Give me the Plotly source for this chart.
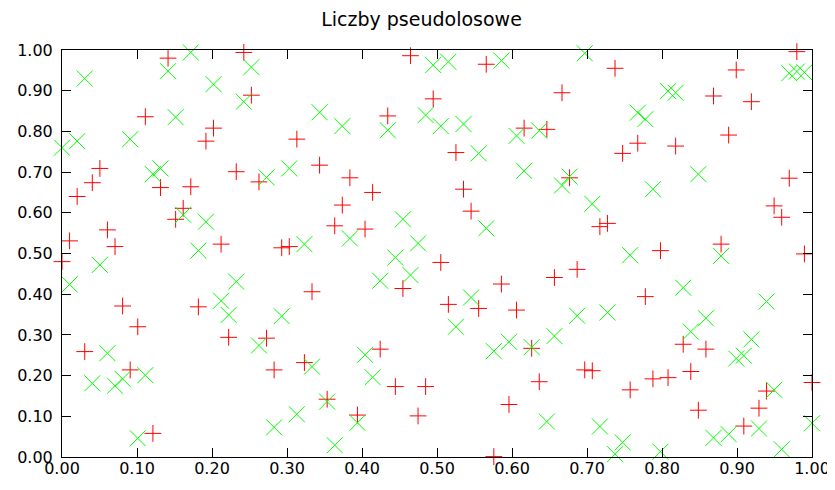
import numpy as np
import plotly.graph_objects as go

title = "Liczby pseudolosowe"
n_samples = 100
x_samples = np.linspace(0.0, 1.0, n_samples)  # gnuplot samples over [0:1]

red_y = [0.480, 0.531, 0.640, 0.259, 0.674, 0.709, 0.558, 0.517, 0.371, 0.214,
         0.320, 0.836, 0.058, 0.662, 0.980, 0.584, 0.611, 0.664, 0.369, 0.776,
         0.808, 0.523, 0.294, 0.701, 0.994, 0.889, 0.676, 0.292, 0.214, 0.514,
         0.517, 0.781, 0.232, 0.406, 0.717, 0.142, 0.568, 0.619, 0.686, 0.103,
         0.560, 0.650, 0.265, 0.838, 0.173, 0.414, 0.986, 0.101, 0.173, 0.880,
         0.478, 0.375, 0.748, 0.658, 0.604, 0.365, 0.965, 0.001, 0.425, 0.129,
         0.361, 0.808, 0.267, 0.185, 0.805, 0.441, 0.895, 0.686, 0.461, 0.214,
         0.212, 0.566, 0.574, 0.955, 0.746, 0.165, 0.771, 0.394, 0.192, 0.507,
         0.195, 0.764, 0.277, 0.210, 0.115, 0.265, 0.887, 0.523, 0.791, 0.951,
         0.076, 0.873, 0.120, 0.162, 0.617, 0.589, 0.685, 0.996, 0.499, 0.183]

green_y = [0.760, 0.424, 0.776, 0.930, 0.181, 0.472, 0.255, 0.175, 0.192, 0.781,
           0.046, 0.201, 0.695, 0.709, 0.948, 0.835, 0.595, 0.994, 0.507, 0.578,
           0.916, 0.384, 0.349, 0.431, 0.873, 0.958, 0.274, 0.687, 0.073, 0.346,
           0.709, 0.105, 0.523, 0.222, 0.847, 0.136, 0.029, 0.813, 0.537, 0.084,
           0.251, 0.196, 0.433, 0.803, 0.490, 0.584, 0.447, 0.525, 0.840, 0.963,
           0.813, 0.971, 0.320, 0.818, 0.392, 0.746, 0.562, 0.260, 0.974, 0.283,
           0.789, 0.703, 0.270, 0.802, 0.087, 0.297, 0.667, 0.689, 0.347, 0.992,
           0.622, 0.075, 0.355, 0.007, 0.036, 0.496, 0.846, 0.830, 0.658, 0.013,
           0.899, 0.895, 0.416, 0.308, 0.695, 0.341, 0.047, 0.494, 0.056, 0.242,
           0.249, 0.289, 0.070, 0.382, 0.165, 0.019, 0.943, 0.947, 0.945, 0.083]

tick_vals = [0.0, 0.1, 0.2, 0.3, 0.4, 0.5, 0.6, 0.7, 0.8, 0.9, 1.0]
tick_text = ["0.00", "0.10", "0.20", "0.30", "0.40", "0.50",
             "0.60", "0.70", "0.80", "0.90", "1.00"]

fig = go.Figure()
fig.add_trace(go.Scatter(
    x=x_samples, y=red_y, mode="markers", name="rand 1",
    marker=dict(symbol="cross-thin", size=12, color="#ff0000",
                line=dict(color="#ff0000", width=1)),
    cliponaxis=False,
))
fig.add_trace(go.Scatter(
    x=x_samples, y=green_y, mode="markers", name="rand 2",
    marker=dict(symbol="x-thin", size=16, color="#00ff00",
                line=dict(color="#00ff00", width=1)),
    cliponaxis=False,
))

axis_common = dict(
    range=[0, 1], tickmode="array", tickvals=tick_vals, ticktext=tick_text,
    ticks="inside", ticklen=9, tickwidth=1, tickcolor="black",
    showline=True, linecolor="black", linewidth=1, mirror="ticks",
    showgrid=False, zeroline=False, automargin=False,
    tickfont=dict(family="DejaVu Sans", size=16, color="black"),
)

# The page body has an 8 px default margin, so the figure is sized and
# placed to put the plot frame at x 62..812, y 50..457 of the window.
fig.update_layout(
    width=827, height=482,
    margin=dict(l=54, r=23, t=42, b=33),
    paper_bgcolor="white", plot_bgcolor="white",
    showlegend=False,
    title=dict(text=title, x=0.5, xanchor="center", y=1 - 11 / 482,
               yanchor="middle", automargin=False,
               font=dict(family="DejaVu Sans", size=19, color="black")),
    xaxis=dict(**axis_common, ticklabelstandoff=-3),
    yaxis=dict(**axis_common, ticklabelstandoff=5),
)

fig.write_html("out.html")
